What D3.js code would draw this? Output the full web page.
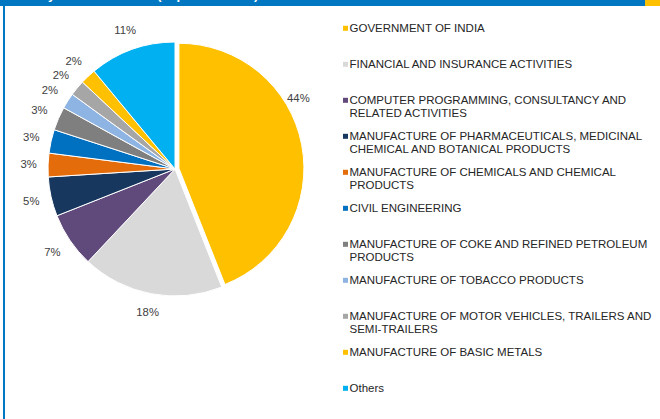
<!DOCTYPE html>
<html>
<head>
<meta charset="utf-8">
<script src="https://cdn.jsdelivr.net/npm/d3@7"></script>
<style>
  html, body { margin: 0; padding: 0; background: #fff; }
  svg { display: block; font-family: "Liberation Sans", Arial, sans-serif; }
</style>
</head>
<body>
<div id="chart"></div>
<script>

// sectors, in pie order (clockwise from 12 o'clock)
const sectors = [
  'GOVERNMENT OF INDIA',
  'FINANCIAL AND INSURANCE ACTIVITIES',
  'COMPUTER PROGRAMMING, CONSULTANCY AND RELATED ACTIVITIES',
  'MANUFACTURE OF PHARMACEUTICALS, MEDICINAL CHEMICAL AND BOTANICAL PRODUCTS',
  'MANUFACTURE OF CHEMICALS AND CHEMICAL PRODUCTS',
  'CIVIL ENGINEERING',
  'MANUFACTURE OF COKE AND REFINED PETROLEUM PRODUCTS',
  'MANUFACTURE OF TOBACCO PRODUCTS',
  'MANUFACTURE OF MOTOR VEHICLES, TRAILERS AND SEMI-TRAILERS',
  'MANUFACTURE OF BASIC METALS',
  'Others'
];

// share of holdings, %
const shares = [44, 18, 7, 5, 3, 3, 3, 2, 2, 2, 11];

const sliceColors = ['#FFC000', '#D9D9D9', '#604A7B', '#17375E', '#E46C0A', '#0070C0',
                     '#7F7F7F', '#8DB4E2', '#A6A6A6', '#FFC000', '#00B0F0'];

const titleText = 'Industry-wise Allocation (Top 10 Sectors)';

let width = 660, height = 419;
let cx = 175, cy = 169, radius = 127;

let svg = d3.select('#chart').append('svg')
    .attr('width', width)
    .attr('height', height);

// header strip, mostly cut off at the top
svg.append('rect').attr('x', 0).attr('y', 0).attr('width', 645).attr('height', 6).attr('fill', '#0077C0');
svg.append('rect').attr('x', 645).attr('y', 0).attr('width', 15).attr('height', 6).attr('fill', '#FFC000');
svg.append('text')
    .attr('x', 4).attr('y', -1.5)
    .attr('fill', '#fff')
    .attr('font-size', 13)
    .attr('font-weight', 'bold')
    .text(titleText);
// left border line
svg.append('rect').attr('x', 3).attr('y', 6).attr('width', 2).attr('height', height - 6).attr('fill', '#0077C0');

let pie = d3.pie().sort(null).value(d => d);
let arcs = pie(shares);

let arc = d3.arc()
    .innerRadius(0)
    .outerRadius(d => d.index === 0 ? radius - 2 : radius);

// the first slice is pulled out a little
let explode = 4;
function offset(d) {
    if (d.index !== 0) return [0, 0];
    let mid = (d.startAngle + d.endAngle) / 2;
    return [Math.sin(mid) * explode, -Math.cos(mid) * explode];
}

let pieG = svg.append('g').attr('transform', `translate(${cx},${cy})`);

pieG.selectAll('path.slice')
    .data(arcs)
    .enter().append('path')
    .attr('class', 'slice')
    .attr('d', arc)
    .attr('transform', d => `translate(${offset(d)[0]},${offset(d)[1]})`)
    .attr('fill', (d, i) => sliceColors[i])
    .attr('stroke', '#fff')
    .attr('stroke-width', 1);

// percentage labels just outside the rim
let labels = pieG.selectAll('text.pct')
    .data(arcs)
    .enter().append('text')
    .attr('class', 'pct')
    .attr('font-size', 11.3)
    .attr('fill', '#404040')
    .attr('text-anchor', 'middle')
    .attr('dy', '0.35em')
    .text(d => d3.format('.0f')(d.data) + '%');

labels.each(function(d) {
    let box = this.getBBox();
    let a = d.index === 0
        ? d.startAngle + 0.375 * (d.endAngle - d.startAngle)
        : (d.startAngle + d.endAngle) / 2;
    let r = d.index === 0 ? radius - 1 : radius + 11;
    let dist = r + Math.abs(Math.sin(a)) * box.width / 2 + Math.abs(Math.cos(a)) * box.height / 2;
    let o = offset(d);
    d3.select(this)
        .attr('x', o[0] + Math.sin(a) * dist)
        .attr('y', o[1] - Math.cos(a) * dist);
});

// legend
let legendX = 343, legendY = 28.3, legendStep = 36, lineH = 12.3, maxW = 310;

let legend = svg.append('g').attr('class', 'legend');

sectors.forEach((name, i) => {
    let y = legendY + i * legendStep;
    legend.append('rect')
        .attr('x', legendX)
        .attr('y', y - 2.5)
        .attr('width', 5)
        .attr('height', 5)
        .attr('fill', sliceColors[i]);

    let t = legend.append('text')
        .attr('x', legendX + 6.5)
        .attr('y', y + 4)
        .attr('font-size', 11.5)
        .attr('fill', '#262626');

    // wrap long names
    let words = name.split(' ');
    let line = [];
    let tspan = t.append('tspan').attr('x', legendX + 6.5).attr('dy', 0);
    words.forEach(w => {
        line.push(w);
        tspan.text(line.join(' '));
        if (tspan.node().getComputedTextLength() > maxW && line.length > 1) {
            line.pop();
            tspan.text(line.join(' '));
            line = [w];
            tspan = t.append('tspan').attr('x', legendX + 6.5).attr('dy', lineH).text(w);
        }
    });
});

</script>
</body>
</html>
